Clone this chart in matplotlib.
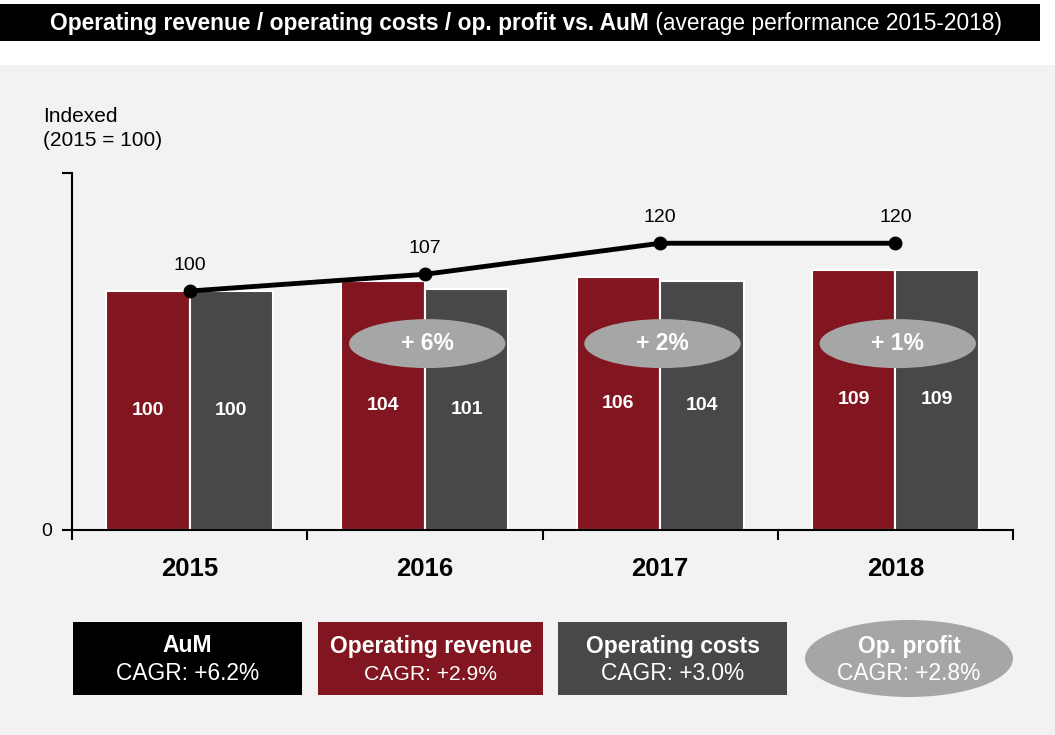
import matplotlib
matplotlib.use("Agg")
import matplotlib.pyplot as plt
from matplotlib.patches import Rectangle, Ellipse

plt.rcParams["font.family"] = ["Liberation Sans", "DejaVu Sans"]

# ================= DATA =================
years = ["2015", "2016", "2017", "2018"]
aum = [100, 107, 120, 120]
revenue = [100, 104, 106, 109]
costs = [100, 101, 104, 109]
profit_growth = ["", "+ 6%", "+ 2%", "+ 1%"]

legend_titles = ["AuM", "Operating revenue", "Operating costs", "Op. profit"]
legend_cagr = ["CAGR: +6.2%", "CAGR: +2.9%", "CAGR: +3.0%", "CAGR: +2.8%"]
# ========================================

RED = "#821620"
DARK = "#484848"
GREY = "#a6a6a6"
PANEL = "#f2f2f2"

W, H = 1055, 735
fig = plt.figure(figsize=(W / 100, H / 100), dpi=100)

# background canvas in pixel coordinates
bg = fig.add_axes([0, 0, 1, 1], zorder=0)
bg.set_xlim(0, W)
bg.set_ylim(H, 0)
bg.axis("off")
bg.add_patch(Rectangle((0, 65), W, H - 65, color=PANEL, lw=0))
bg.add_patch(Rectangle((0, 4), 1040, 37, color="black", lw=0))

# title: bold part + normal part, centered in the bar
renderer = fig.canvas.get_renderer()
t1 = bg.text(0, 23, "Operating revenue / operating costs / op. profit vs. AuM",
             color="white", fontsize=16.4, fontweight="bold", va="center", ha="left")
t2 = bg.text(0, 23, " (average performance 2015-2018)",
             color="white", fontsize=16.4, va="center", ha="left")
w1 = t1.get_window_extent(renderer).width
w2 = t2.get_window_extent(renderer).width
x0 = 526 - (w1 + w2) / 2
t1.set_x(x0)
t2.set_x(x0 + w1)

bg.text(43, 116, "Indexed", fontsize=15, va="center", ha="left")
bg.text(43, 140, "(2015 = 100)", fontsize=15, va="center", ha="left")

# legend boxes
cagr_sizes = [16.4, 15.2, 16.4, 16.4]
box_specs = [(73, 302, "black"), (318, 543, RED), (558, 787, DARK)]
for k, (xa, xb, col) in enumerate(box_specs):
    bg.add_patch(Rectangle((xa, 622), xb - xa, 73, color=col, lw=0))
    cx = (xa + xb) / 2
    bg.text(cx, 646, legend_titles[k], color="white", fontsize=16.5, fontweight="bold",
            ha="center", va="center")
    bg.text(cx, 674, legend_cagr[k], color="white", fontsize=cagr_sizes[k],
            ha="center", va="center")
bg.add_patch(Ellipse((909, 658.5), 208, 77, color=GREY, lw=0))
bg.text(909, 646, legend_titles[3], color="white", fontsize=16.5, fontweight="bold",
        ha="center", va="center")
bg.text(909, 674, legend_cagr[3], color="white", fontsize=cagr_sizes[3],
        ha="center", va="center")

# main chart
ax = fig.add_axes([72 / W, 1 - 530 / H, 941 / W, 357 / H], zorder=1)
ax.patch.set_alpha(0)
x = list(range(len(years)))
bw = 0.355
ax.bar([i - bw / 2 for i in x], revenue, width=bw, color=RED, edgecolor="white",
       linewidth=1.5, zorder=2)
ax.bar([i + bw / 2 for i in x], costs, width=bw, color=DARK, edgecolor="white",
       linewidth=1.5, zorder=2)

for i in x:
    ax.text(i - bw / 2, revenue[i] / 2, str(revenue[i]), color="white", fontsize=14,
            fontweight="bold", ha="center", va="center", zorder=4)
    ax.text(i + bw / 2, costs[i] / 2, str(costs[i]), color="white", fontsize=14,
            fontweight="bold", ha="center", va="center", zorder=4)

ax.plot(x, aum, color="black", lw=3.5, marker="o", markersize=9, zorder=5)
for i in x:
    ax.annotate(str(aum[i]), (i, aum[i]), xytext=(0, 18.5), textcoords="offset points",
                ha="center", va="center", fontsize=14, zorder=6)

for i, lab in enumerate(profit_growth):
    if not lab:
        continue
    ax.add_patch(Ellipse((i + 0.01, 78), 0.665, 20.5, color=GREY, lw=0, zorder=3))
    ax.text(i + 0.01, 78, lab, color="white", fontsize=16.5, fontweight="bold",
            ha="center", va="center", zorder=4)

ymax = 149.4
ax.set_xlim(-0.5, 3.5)
ax.set_ylim(0, ymax)
for s in ["top", "right"]:
    ax.spines[s].set_visible(False)
for s in ["left", "bottom"]:
    ax.spines[s].set_linewidth(1.5)
ax.set_yticks([0, ymax])
ax.set_yticklabels(["0", ""], fontsize=14)
ax.tick_params(axis="y", length=7, width=1.5, pad=7)
ax.set_xticks([-0.5, 0.5, 1.5, 2.5, 3.5])
ax.set_xticklabels([])
ax.tick_params(axis="x", length=7, width=1.5)
for i, yr in enumerate(years):
    ax.text(i, -0.11 * ymax, yr, fontsize=18.5, fontweight="bold",
            ha="center", va="center")

fig.savefig("out.png", dpi=100)
